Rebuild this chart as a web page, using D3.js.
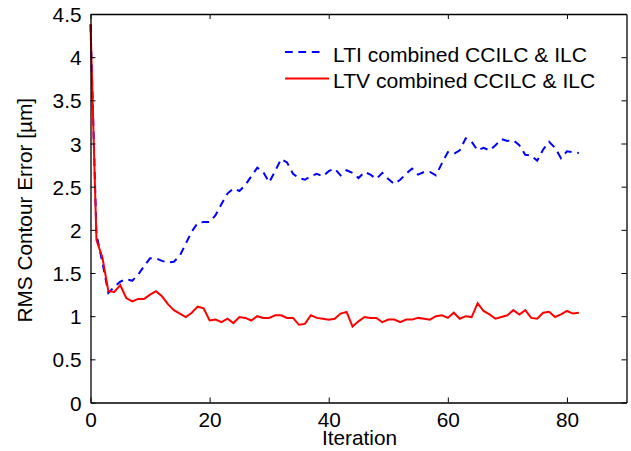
<!DOCTYPE html>
<html>
<head>
<meta charset="utf-8">
<script src="https://cdn.jsdelivr.net/npm/d3@7"></script>
<style>
  html, body { margin: 0; padding: 0; background: #fff; }
  svg { display: block; }
  text { font-family: "Liberation Sans", Arial, Helvetica, sans-serif; fill: #000; }
</style>
</head>
<body>
<svg id="chart" width="631" height="451"></svg>
<script>
// ---- data ----
const seriesNames = ["LTI combined CCILC & ILC", "LTV combined CCILC & ILC"];
const ltiValues = [4.38, 1.95, 1.62, 1.27, 1.34, 1.40, 1.43, 1.41, 1.48, 1.58,
  1.67, 1.67, 1.64, 1.62, 1.63, 1.70, 1.84, 1.98, 2.08, 2.09,
  2.09, 2.17, 2.30, 2.42, 2.48, 2.45, 2.52, 2.62, 2.72, 2.67,
  2.55, 2.68, 2.82, 2.78, 2.65, 2.60, 2.58, 2.62, 2.65, 2.62,
  2.68, 2.71, 2.63, 2.69, 2.66, 2.60, 2.67, 2.64, 2.59, 2.66,
  2.59, 2.53, 2.58, 2.65, 2.71, 2.64, 2.67, 2.67, 2.63, 2.77,
  2.90, 2.88, 2.92, 3.06, 3.02, 2.92, 2.95, 2.92, 2.98, 3.05,
  3.03, 3.04, 2.98, 2.87, 2.86, 2.80, 2.93, 3.02, 2.95, 2.83,
  2.91, 2.90, 2.89];
const ltvValues = [4.38, 1.88, 1.68, 1.29, 1.28, 1.36, 1.21, 1.17, 1.20, 1.20,
  1.25, 1.29, 1.23, 1.14, 1.07, 1.03, 0.99, 1.04, 1.11, 1.09,
  0.95, 0.96, 0.93, 0.97, 0.92, 0.99, 0.98, 0.95, 1.00, 0.98,
  0.98, 1.01, 1.01, 0.98, 0.98, 0.90, 0.91, 1.01, 0.98, 0.97,
  0.96, 0.97, 1.03, 1.05, 0.88, 0.94, 0.99, 0.98, 0.98, 0.93,
  0.96, 0.96, 0.93, 0.96, 0.96, 0.98, 0.97, 0.96, 1.00, 1.01,
  0.98, 1.04, 0.97, 1.00, 0.99, 1.15, 1.06, 1.02, 0.97, 0.99,
  1.01, 1.07, 1.02, 1.07, 0.98, 0.97, 1.04, 1.05, 0.99, 1.02,
  1.06, 1.03, 1.04];
const xTicks = [0, 20, 40, 60, 80];
const yTicks = [0, 0.5, 1, 1.5, 2, 2.5, 3, 3.5, 4, 4.5];
const xLabel = "Iteration";
const yLabel = "RMS Contour Error [µm]";

// ---- layout ----
const L = 90.5, R = 626.5, T = 14, B = 402.5;
const FS = 20.8;
const svg = d3.select("#chart");
const x = d3.scaleLinear().domain([0, 90]).range([L, R]);
const y = d3.scaleLinear().domain([0, 4.5]).range([B, T]);

const line = d3.line().x((d, i) => x(i)).y(d => y(d));

// series
svg.append("path").datum(ltiValues)
  .attr("d", line).attr("fill", "none")
  .attr("stroke", "#0000ff").attr("stroke-width", 2)
  .attr("stroke-dasharray", "7.7,5.7");
svg.append("path").datum(ltvValues)
  .attr("d", line).attr("fill", "none")
  .attr("stroke", "#ff0000").attr("stroke-width", 2);

// axes (inward ticks, box)
const tk = 5;
const gx = svg.append("g").attr("transform", `translate(0,${B})`)
  .call(d3.axisBottom(x).tickValues(xTicks).tickSizeInner(-tk).tickSizeOuter(0).tickPadding(9.5));
const gxt = svg.append("g").attr("transform", `translate(0,${T})`)
  .call(d3.axisTop(x).tickValues(xTicks).tickSizeInner(-tk).tickSizeOuter(0).tickFormat(""));
const gy = svg.append("g").attr("transform", `translate(${L},0)`)
  .call(d3.axisLeft(y).tickValues(yTicks).tickSizeInner(-tk).tickSizeOuter(0).tickPadding(9).tickFormat(d3.format("~g")));
const gyr = svg.append("g").attr("transform", `translate(${R},0)`)
  .call(d3.axisRight(y).tickValues(yTicks).tickSizeInner(-tk).tickSizeOuter(0).tickFormat(""));

[gx, gxt, gy, gyr].forEach(g => {
  g.select(".domain").attr("stroke", "#000").attr("stroke-width", 1.3);
  g.selectAll(".tick line").attr("stroke", "#000").attr("stroke-width", 1);
  g.selectAll(".tick text").attr("font-size", FS).attr("font-family", "Liberation Sans, Arial, sans-serif").attr("fill", "#000");
});
gx.selectAll(".tick text").attr("dy", "0.71em");
gy.selectAll(".tick text").attr("dy", "0.36em");

// axis labels
svg.append("text").attr("x", (L + R) / 2 + 1).attr("y", 445)
  .attr("text-anchor", "middle").attr("font-size", FS).text(xLabel);
svg.append("text").attr("transform", `translate(32,${(T + B) / 2 + 2}) rotate(-90)`)
  .attr("text-anchor", "middle").attr("font-size", FS).text(yLabel);

// legend
const legendRows = [
  { name: seriesNames[0], color: "#0000ff", dash: "7.7,5.7", y: 52, x2: 323 },
  { name: seriesNames[1], color: "#ff0000", dash: null, y: 78.5, x2: 329 }
];
legendRows.forEach(r => {
  svg.append("line").attr("x1", 285).attr("x2", r.x2).attr("y1", r.y).attr("y2", r.y)
    .attr("stroke", r.color).attr("stroke-width", 2)
    .attr("stroke-dasharray", r.dash);
  svg.append("text").attr("x", 333).attr("y", r.y + 9.5)
    .attr("font-size", 21.1).text(r.name);
});
</script>
</body>
</html>
